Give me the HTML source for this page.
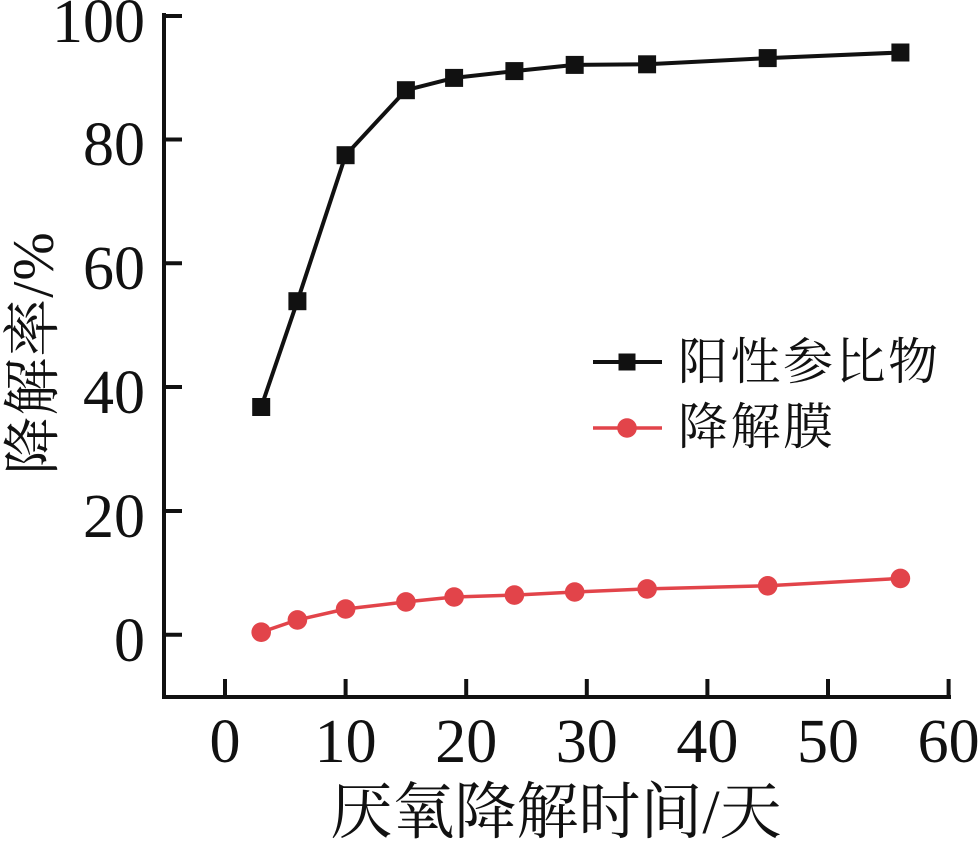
<!DOCTYPE html>
<html>
<head>
<meta charset="utf-8">
<style>
  html, body { margin: 0; padding: 0; background: #ffffff; }
  svg { display: block; }
  .num { font-family: "Liberation Serif", serif; font-size: 62px; fill: #111; }
  .cjk { font-family: "Liberation Serif", "Noto Serif CJK SC", serif; fill: #111; }
</style>
</head>
<body>
<svg width="980" height="844" viewBox="0 0 980 844" xmlns="http://www.w3.org/2000/svg">
  <rect width="980" height="844" fill="#ffffff"/>

  <!-- axes -->
  <g stroke="#111" stroke-width="4" fill="none" stroke-linecap="square">
    <line x1="164" y1="15" x2="164" y2="697"/>
    <line x1="164" y1="697" x2="949" y2="697"/>
    <!-- y ticks -->
    <line x1="164" y1="16" x2="180" y2="16"/>
    <line x1="164" y1="139.5" x2="180" y2="139.5"/>
    <line x1="164" y1="263.3" x2="180" y2="263.3"/>
    <line x1="164" y1="387" x2="180" y2="387"/>
    <line x1="164" y1="511" x2="180" y2="511"/>
    <line x1="164" y1="634.7" x2="180" y2="634.7"/>
    <!-- x ticks -->
    <line x1="225" y1="697" x2="225" y2="681"/>
    <line x1="345.6" y1="697" x2="345.6" y2="681"/>
    <line x1="466.2" y1="697" x2="466.2" y2="681"/>
    <line x1="586.8" y1="697" x2="586.8" y2="681"/>
    <line x1="707.4" y1="697" x2="707.4" y2="681"/>
    <line x1="828" y1="697" x2="828" y2="681"/>
    <line x1="948.6" y1="697" x2="948.6" y2="681"/>
  </g>

  <!-- y tick labels -->
  <g class="num" text-anchor="end">
    <text x="145" y="42">100</text>
    <text x="145" y="165">80</text>
    <text x="145" y="289">60</text>
    <text x="145" y="413">40</text>
    <text x="145" y="537">20</text>
    <text x="145" y="661">0</text>
  </g>

  <!-- x tick labels -->
  <g class="num" text-anchor="middle">
    <text x="225" y="762">0</text>
    <text x="345.6" y="762">10</text>
    <text x="466.2" y="762">20</text>
    <text x="586.8" y="762">30</text>
    <text x="707.4" y="762">40</text>
    <text x="828" y="762">50</text>
    <text x="948.6" y="762">60</text>
  </g>

  <!-- axis titles -->
  <text class="cjk" x="556" y="813" font-size="62" text-anchor="middle" dominant-baseline="central">厌氧降解时间/天</text>
  <text class="cjk" transform="translate(33,353) rotate(-90)" font-size="58" text-anchor="middle" dominant-baseline="central" letter-spacing="1">降解率/%</text>

  <!-- black series -->
  <polyline fill="none" stroke="#111" stroke-width="4" stroke-linejoin="round"
    points="261.2,407 297.4,301.2 345.6,155.2 405.9,90.2 454.1,77.9 514.4,71.1 574.7,64.9 647.1,64.3 767.7,58.1 900.4,52.5"/>
  <g fill="#111">
    <rect x="252.2" y="398" width="18" height="18"/>
    <rect x="288.4" y="292.2" width="18" height="18"/>
    <rect x="336.6" y="146.2" width="18" height="18"/>
    <rect x="396.9" y="81.2" width="18" height="18"/>
    <rect x="445.1" y="68.9" width="18" height="18"/>
    <rect x="505.4" y="62.1" width="18" height="18"/>
    <rect x="565.7" y="55.9" width="18" height="18"/>
    <rect x="638.1" y="55.3" width="18" height="18"/>
    <rect x="758.7" y="49.1" width="18" height="18"/>
    <rect x="891.4" y="43.5" width="18" height="18"/>
  </g>

  <!-- red series -->
  <polyline fill="none" stroke="#e2444a" stroke-width="3.5" stroke-linejoin="round"
    points="261.2,632.2 297.4,619.9 345.6,609 405.9,601.9 454.1,597 514.4,595.1 574.7,592 647.1,588.9 767.7,585.8 900.4,578.4"/>
  <g fill="#e2444a">
    <circle cx="261.2" cy="632.2" r="9.8"/>
    <circle cx="297.4" cy="619.9" r="9.8"/>
    <circle cx="345.6" cy="609" r="9.8"/>
    <circle cx="405.9" cy="601.9" r="9.8"/>
    <circle cx="454.1" cy="597" r="9.8"/>
    <circle cx="514.4" cy="595.1" r="9.8"/>
    <circle cx="574.7" cy="592" r="9.8"/>
    <circle cx="647.1" cy="588.9" r="9.8"/>
    <circle cx="767.7" cy="585.8" r="9.8"/>
    <circle cx="900.4" cy="578.4" r="9.8"/>
  </g>

  <!-- legend -->
  <line x1="593" y1="362" x2="662" y2="362" stroke="#111" stroke-width="4"/>
  <rect x="618.5" y="353.5" width="17" height="17" fill="#111"/>
  <text class="cjk" x="678" y="362" font-size="50" dominant-baseline="central" letter-spacing="2.5">阳性参比物</text>

  <line x1="593" y1="428" x2="662" y2="428" stroke="#e2444a" stroke-width="3.5"/>
  <circle cx="627" cy="428" r="9.8" fill="#e2444a"/>
  <text class="cjk" x="678" y="427" font-size="50" dominant-baseline="central" letter-spacing="2.5">降解膜</text>
</svg>
</body>
</html>
